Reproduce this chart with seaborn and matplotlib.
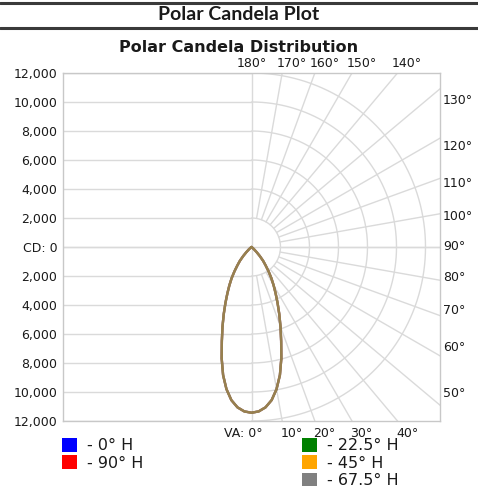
import numpy as np
import pandas as pd
import matplotlib.pyplot as plt
import seaborn as sns
from matplotlib.lines import Line2D
from matplotlib.patches import Patch

# -------------------------------------------------------------------
# Data
# -------------------------------------------------------------------

# vertical angles (deg, 0 = straight down) and candela values
vertical_angles = [0, 2.5, 5, 7.5, 10, 12.5, 15, 17.5, 20, 22.5, 25, 27.5, 30,
                   32.5, 35, 37.5, 40, 42.5, 45, 47.5, 50, 55, 60, 70, 80, 90]
candela = [11430, 11350, 11100, 10650, 9950, 9050, 7950, 6800, 5850, 5000, 4250,
           3600, 3050, 2550, 2050, 1600, 1250, 850, 500, 250, 80, 0, 0, 0, 0, 0]

# all horizontal planes give the same curve (they overlap in the plot)
h_planes = ['0° H', '90° H', '22.5° H', '45° H', '67.5° H']
plane_colors = ['#0000ff', '#ff0000', '#008000', '#ffa500', '#808080']

cd_ticks = [-12000, -10000, -8000, -6000, -4000, -2000, 0,
            2000, 4000, 6000, 8000, 10000, 12000]
ring_radii = [2000, 4000, 6000, 8000, 10000, 12000]
spoke_angles = list(range(10, 180, 10))
top_labels = [180, 170, 160, 150, 140]
right_labels = [130, 120, 110, 100, 90, 80, 70, 60, 50]
bottom_labels = [10, 20, 30, 40]

# -------------------------------------------------------------------
# Build the curve table (mirrored left / right of the 0-180 line)
# -------------------------------------------------------------------

rows = []
va = np.radians(vertical_angles)
cd = np.array(candela)
for plane in h_planes:
    xs = np.concatenate([-(cd * np.sin(va))[::-1], cd * np.sin(va)])
    ys = np.concatenate([(-cd * np.cos(va))[::-1], -cd * np.cos(va)])
    for i, (x, y) in enumerate(zip(xs, ys)):
        rows.append({'plane': plane, 'x': x, 'y': y, 'order': i})
curve_df = pd.DataFrame(rows)

# -------------------------------------------------------------------
# Figure
# -------------------------------------------------------------------

sns.set_theme(style='white')
plt.rcParams['font.family'] = ['DejaVu Sans']

fig = plt.figure(figsize=(4.78, 4.96), dpi=100)
ax = fig.add_axes([63 / 478, 1 - 421 / 496, 377 / 478, 348 / 496])
ax.set_xlim(-13000, 13000)
ax.set_ylim(-12000, 12000)

grid_col = '#dadada'

# left half: plain horizontal grid
for y in cd_ticks:
    ax.plot([-13000, 0], [y, y], color=grid_col, lw=1, zorder=1)
ax.axhline(0, color=grid_col, lw=1, zorder=1)
ax.axvline(0, color=grid_col, lw=1, zorder=1)

# right half: polar grid
arc = np.radians(np.linspace(0, 180, 181))
for r in ring_radii:
    ax.plot(r * np.sin(arc), -r * np.cos(arc), color=grid_col, lw=1, zorder=1)
for a in spoke_angles:
    t = np.radians(a)
    ax.plot([2000 * np.sin(t), 30000 * np.sin(t)],
            [-2000 * np.cos(t), -30000 * np.cos(t)],
            color=grid_col, lw=1, zorder=1)

# candela curves
sns.lineplot(data=curve_df, x='x', y='y', hue='plane', hue_order=h_planes,
             palette=plane_colors, sort=False, estimator=None, units='plane',
             alpha=0.5, lw=1.7, legend=False, ax=ax, zorder=3)

# axes look
ax.set_xlabel('')
ax.set_ylabel('')
ax.set_xticks([])
ax.set_yticks(cd_ticks)
ax.set_yticklabels(['CD: 0' if v == 0 else f'{abs(v):,}' for v in cd_ticks],
                   fontsize=9, color='#1a1a1a')
ax.tick_params(axis='y', length=0, pad=4)
for s in ax.spines.values():
    s.set_color('#c8c8c8')
    s.set_linewidth(1)

# angle labels
lab_kw = dict(textcoords='offset points', fontsize=9, color='#1a1a1a',
              annotation_clip=False)
for a in top_labels:
    x = 12000 * np.tan(np.radians(180 - a))
    dx = 0 if a == 180 else 7
    ax.annotate(f'{a}°', (x, 12000), xytext=(dx, 2), ha='center', va='bottom', **lab_kw)
for a in right_labels:
    y = -12000 / np.tan(np.radians(a))
    ax.annotate(f'{a}°', (13000, y), xytext=(2, 0), ha='left', va='center', **lab_kw)
for a in bottom_labels:
    x = 12000 * np.tan(np.radians(a))
    ax.annotate(f'{a}°', (x, -12000), xytext=(7, -4), ha='center', va='top', **lab_kw)
ax.annotate('VA: 0°', (0, -12000), xytext=(8, -4), ha='right', va='top', **lab_kw)

# titles
fig.text(0.5, 1 - 47 / 496, 'Polar Candela Distribution', ha='center', va='center',
         fontsize=11.5, fontweight='bold', color='#1a1a1a')
fig.text(0.5, 1 - 15 / 496, 'Polar Candela Plot', ha='center', va='center',
         fontsize=14, fontweight='bold', family=['Lato', 'DejaVu Sans'], color='#1a1a1a')
fig.add_artist(Line2D([0, 1], [1 - 3 / 496, 1 - 3 / 496], color='#3a3a3a', lw=2.2))
fig.add_artist(Line2D([0, 1], [1 - 28 / 496, 1 - 28 / 496], color='#3a3a3a', lw=2.2))

# legend (two columns)
handles = [Patch(facecolor=c, edgecolor='none') for c in plane_colors]
labels = ['- ' + p for p in h_planes]
leg_kw = dict(frameon=False, fontsize=11.5, handlelength=0.95, handleheight=0.95,
              handletextpad=0.6, labelspacing=0.12, borderpad=0, borderaxespad=0,
              loc='upper left')
leg1 = fig.legend(handles[:2], labels[:2],
                  bbox_to_anchor=(62 / 478, 1 - 438 / 496), **leg_kw)
leg2 = fig.legend(handles[2:], labels[2:],
                  bbox_to_anchor=(302 / 478, 1 - 438 / 496), **leg_kw)
for leg in (leg1, leg2):
    for t in leg.get_texts():
        t.set_color('#1a1a1a')

fig.savefig('out.png', dpi=100)
